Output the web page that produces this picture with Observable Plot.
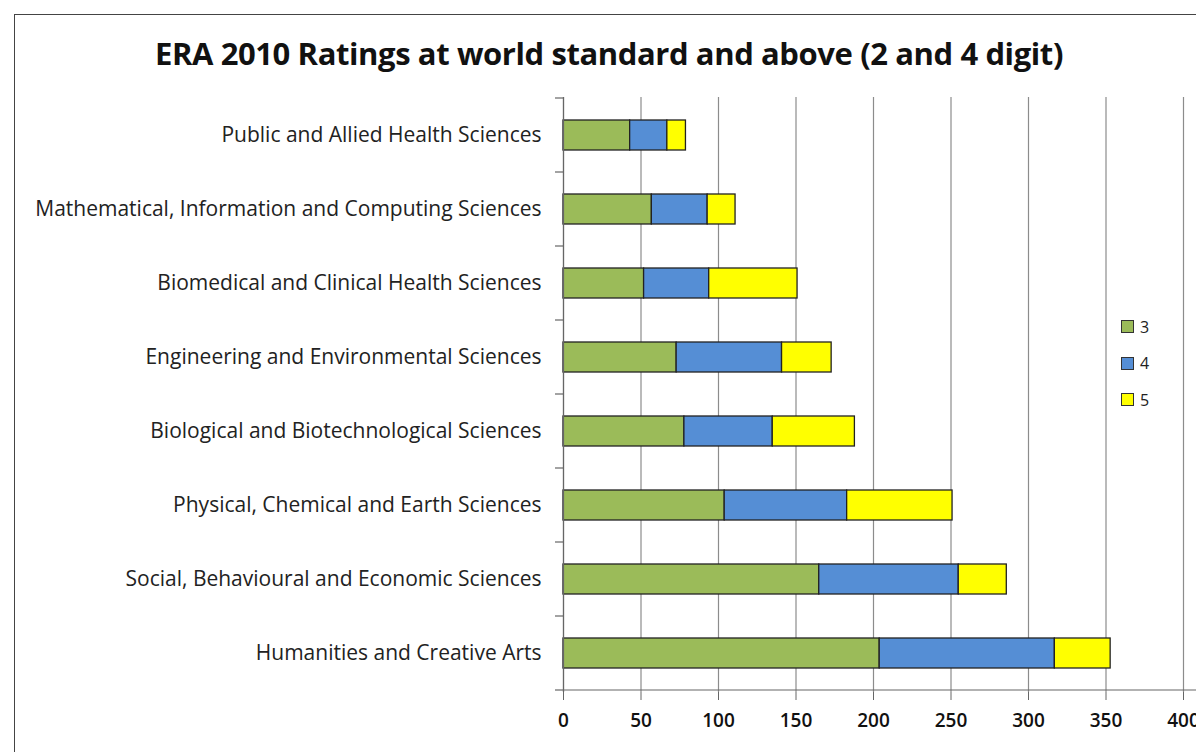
<!DOCTYPE html>
<html>
<head>
<meta charset="utf-8">
<script src="https://cdn.jsdelivr.net/npm/d3@7"></script>
<script src="https://cdn.jsdelivr.net/npm/@observablehq/plot@0.6"></script>
<style>
  html, body { margin: 0; padding: 0; background: #fff; overflow: hidden; }
  body { width: 1196px; height: 752px; position: relative; font-family: "Open Sans", sans-serif; }
  #frame { position: absolute; left: 14px; top: 14px; width: 1300px; height: 900px; border-left: 1.5px solid #444; border-top: 1.5px solid #444; }
  #title { position: absolute; left: 0; width: 1218px; top: 32px; text-align: center; font-size: 31px; font-weight: 700; color: #111; letter-spacing: -0.4px; line-height: 42px; }
  #chart { position: absolute; left: 0; top: 80px; }
  #legend { position: absolute; left: 1121px; top: 317px; font-size: 16px; color: #222; }
  .li { display: flex; align-items: center; height: 19px; margin-bottom: 17.5px; }
  .sw { width: 11px; height: 11px; border: 1px solid #333; margin-right: 6px; }
</style>
</head>
<body>
<div id="frame"></div>
<div id="title">ERA 2010 Ratings at world standard and above (2 and 4 digit)</div>
<div id="chart"></div>
<div id="legend"></div>
<script>
const categories = [
  "Public and Allied Health Sciences",
  "Mathematical, Information and Computing Sciences",
  "Biomedical and Clinical Health Sciences",
  "Engineering and Environmental Sciences",
  "Biological and Biotechnological Sciences",
  "Physical, Chemical and Earth Sciences",
  "Social, Behavioural and Economic Sciences",
  "Humanities and Creative Arts"
];
const seriesNames = ["3", "4", "5"];
const rating3 = [43, 57, 52, 73, 78, 104, 165, 204];
const rating4 = [24, 36, 42, 68, 57, 79, 90, 113];
const rating5 = [12, 18, 57, 32, 53, 68, 31, 36];
const seriesColors = ["#9BBB59", "#558ED5", "#FFFF00"];
const xTicks = [0, 50, 100, 150, 200, 250, 300, 350, 400];

const seriesValues = [rating3, rating4, rating5];
const data = [];
seriesNames.forEach((s, si) => {
  categories.forEach((c, ci) => data.push({category: c, series: s, value: seriesValues[si][ci]}));
});

const chart = Plot.plot({
  width: 1196,
  height: 672,
  marginTop: 17,
  marginBottom: 60,
  marginLeft: 563,
  marginRight: 13,
  style: {fontFamily: "'Open Sans', sans-serif", background: "transparent"},
  x: {domain: [0, 400], ticks: xTicks, label: null},
  y: {domain: categories, label: null, padding: 0.59, paddingOuter: 0.295},
  color: {domain: seriesNames, range: seriesColors},
  marks: [
    Plot.ruleX(xTicks, {stroke: "#8c8c8c", strokeWidth: 1.2}),
    Plot.barX(data, Plot.stackX({
      x: "value", y: "category", fill: "series", order: seriesNames,
      stroke: "#222", strokeWidth: 1.3
    })),
    Plot.axisX({ticks: xTicks, tickSize: 8, tickPadding: 13, fontSize: 19, fill: "#111", stroke: "#666", label: null}),
    Plot.axisY({tickSize: 0, tickPadding: 22, fontSize: 21, fill: "#222", label: null}),
    Plot.ruleX([0], {stroke: "#666", strokeWidth: 1.2})
  ]
});
document.getElementById("chart").appendChild(chart);

const svg = d3.select(chart);
const tickStrings = new Set(xTicks.map(String));
svg.selectAll("text").filter(function() { return tickStrings.has(this.textContent.trim()); })
  .attr("font-weight", 600);

// category boundary ticks and x axis baseline using the plot's own scales
const ys = chart.scale("y");
const xs = chart.scale("x");
const step = ys.step;
const bw = ys.bandwidth;
const half = (step - bw) / 2;
const bounds = categories.map(c => ys.apply(c) - half);
bounds.push(ys.apply(categories[categories.length - 1]) + bw + half);
const x0 = xs.apply(0), x1 = xs.apply(400);
const g = svg.append("g").attr("stroke", "#666").attr("stroke-width", 1.2);
bounds.forEach(b => g.append("line").attr("x1", x0 - 8).attr("x2", x0).attr("y1", b).attr("y2", b));
g.append("line").attr("x1", x0).attr("x2", x1 + 20).attr("y1", bounds[bounds.length - 1]).attr("y2", bounds[bounds.length - 1]);

// legend
const leg = document.getElementById("legend");
seriesNames.forEach((s, i) => {
  const d = document.createElement("div");
  d.className = "li";
  d.innerHTML = `<span class="sw" style="background:${seriesColors[i]}"></span><span>${s}</span>`;
  leg.appendChild(d);
});
</script>
</body>
</html>
